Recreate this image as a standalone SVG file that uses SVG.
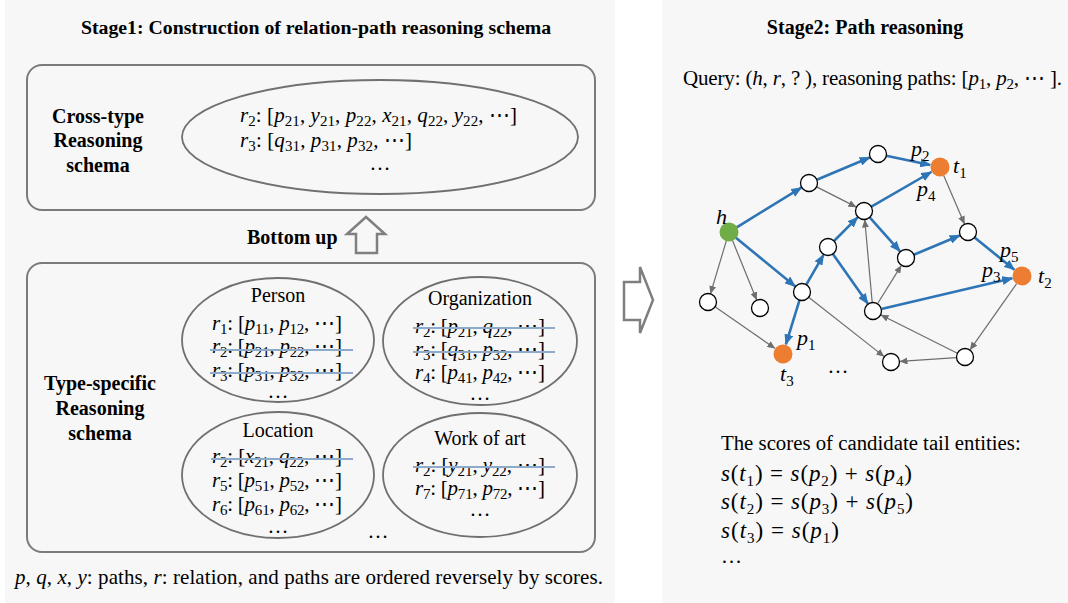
<svg xmlns="http://www.w3.org/2000/svg" width="1068" height="603" viewBox="0 0 1068 603">
<defs>
<style>
.panel{fill:#f7f7f7}
.box{fill:none;stroke:#7b7b7b;stroke-width:2}
.ell{fill:none;stroke:#707070;stroke-width:1.8}
.b{font-family:"Liberation Serif","Times New Roman",serif;font-weight:bold;font-size:20px;fill:#000}
.t{font-family:"Liberation Serif","Times New Roman",serif;font-size:20px;fill:#000}
.m{font-family:"Liberation Serif","DejaVu Serif",serif;font-size:21px;fill:#000}
.eq{font-size:23px}
.i{font-style:italic}
.sb{font-size:15px}
.st{stroke:#8eaacb;stroke-width:2}
.hol{stroke:#7f7f7f;stroke-width:2.5}
.be{stroke:#2e75b6;stroke-width:2.6;fill:none;marker-end:url(#ab)}
.ge{stroke:#6e6e6e;stroke-width:1.2;fill:none;marker-end:url(#ag)}
.n{fill:#fff;stroke:#000;stroke-width:1.3}
</style>
<marker id="ab" markerUnits="userSpaceOnUse" markerWidth="11" markerHeight="9" refX="10" refY="4.5" orient="auto"><path d="M0,0 L11,4.5 L0,9 z" fill="#2e75b6"/></marker>
<marker id="ag" markerUnits="userSpaceOnUse" markerWidth="8" markerHeight="7" refX="7.5" refY="3.5" orient="auto"><path d="M0,0 L8,3.5 L0,7 z" fill="#6e6e6e"/></marker>
</defs>
<rect x="0" y="0" width="1068" height="603" fill="#fff"/>
<rect class="panel" x="5" y="0" width="610" height="603"/>
<rect class="panel" x="662" y="0" width="406" height="603"/>

<g id="stage1-title"><text class="b" x="316" y="34" text-anchor="middle" style="font-size:19.8px">Stage1: Construction of relation-path reasoning schema</text></g>

<g id="cross-type">
<rect class="box" x="27" y="65" width="568" height="145" rx="15"/>
<text class="b" x="98" y="123" text-anchor="middle">Cross-type</text>
<text class="b" x="98" y="147" text-anchor="middle">Reasoning</text>
<text class="b" x="98" y="172" text-anchor="middle">schema</text>
<ellipse class="ell" cx="380" cy="137" rx="198" ry="57"/>
<text class="m" x="240" y="122" textLength="277" lengthAdjust="spacing"><tspan class="i">r</tspan><tspan class="sb" dy="4">2</tspan><tspan dy="-4">: [</tspan><tspan class="i">p</tspan><tspan class="sb" dy="4">21</tspan><tspan dy="-4">, </tspan><tspan class="i">y</tspan><tspan class="sb" dy="4">21</tspan><tspan dy="-4">, </tspan><tspan class="i">p</tspan><tspan class="sb" dy="4">22</tspan><tspan dy="-4">, </tspan><tspan class="i">x</tspan><tspan class="sb" dy="4">21</tspan><tspan dy="-4">, </tspan><tspan class="i">q</tspan><tspan class="sb" dy="4">22</tspan><tspan dy="-4">, </tspan><tspan class="i">y</tspan><tspan class="sb" dy="4">22</tspan><tspan dy="-4">, ⋯]</tspan></text>
<text class="m" x="240" y="147" textLength="172" lengthAdjust="spacing"><tspan class="i">r</tspan><tspan class="sb" dy="4">3</tspan><tspan dy="-4">: [</tspan><tspan class="i">q</tspan><tspan class="sb" dy="4">31</tspan><tspan dy="-4">, </tspan><tspan class="i">p</tspan><tspan class="sb" dy="4">31</tspan><tspan dy="-4">, </tspan><tspan class="i">p</tspan><tspan class="sb" dy="4">32</tspan><tspan dy="-4">, ⋯]</tspan></text>
<text class="m" x="380" y="170" text-anchor="middle">…</text>
</g>

<g id="bottom-up">
<text class="b" x="247" y="244">Bottom up</text>
<polygon class="hol" fill="#f7f7f7" points="366,217 385,234 377,234 377,253 356,253 356,234 347,234"/>
</g>

<g id="type-specific">
<rect class="box" x="27" y="263" width="568" height="289" rx="15"/>
<text class="b" x="100" y="390" text-anchor="middle">Type-specific</text>
<text class="b" x="100" y="415" text-anchor="middle">Reasoning</text>
<text class="b" x="100" y="440" text-anchor="middle">schema</text>
<text class="m" x="378" y="538" text-anchor="middle">…</text>
</g>

<g id="person">
<ellipse class="ell" cx="278" cy="340" rx="96" ry="62"/>
<text class="t" x="278" y="302" text-anchor="middle">Person</text>
<text class="m" x="212" y="330" textLength="130" lengthAdjust="spacing"><tspan class="i">r</tspan><tspan class="sb" dy="4">1</tspan><tspan dy="-4">: [</tspan><tspan class="i">p</tspan><tspan class="sb" dy="4">11</tspan><tspan dy="-4">, </tspan><tspan class="i">p</tspan><tspan class="sb" dy="4">12</tspan><tspan dy="-4">, ⋯]</tspan></text>
<text class="m" x="212" y="353" textLength="130" lengthAdjust="spacing"><tspan class="i">r</tspan><tspan class="sb" dy="4">2</tspan><tspan dy="-4">: [</tspan><tspan class="i">p</tspan><tspan class="sb" dy="4">21</tspan><tspan dy="-4">, </tspan><tspan class="i">p</tspan><tspan class="sb" dy="4">22</tspan><tspan dy="-4">, ⋯]</tspan></text>
<text class="m" x="212" y="377" textLength="130" lengthAdjust="spacing"><tspan class="i">r</tspan><tspan class="sb" dy="4">3</tspan><tspan dy="-4">: [</tspan><tspan class="i">p</tspan><tspan class="sb" dy="4">31</tspan><tspan dy="-4">, </tspan><tspan class="i">p</tspan><tspan class="sb" dy="4">32</tspan><tspan dy="-4">, ⋯]</tspan></text>
<text class="m" x="278" y="398" text-anchor="middle">…</text>
<line class="st" x1="210" y1="350" x2="353" y2="350"/>
<line class="st" x1="210" y1="373" x2="353" y2="373"/>
</g>

<g id="organization">
<ellipse class="ell" cx="480" cy="341" rx="97" ry="64"/>
<text class="t" x="480" y="305" text-anchor="middle">Organization</text>
<text class="m" x="415" y="333" textLength="130" lengthAdjust="spacing"><tspan class="i">r</tspan><tspan class="sb" dy="4">2</tspan><tspan dy="-4">: [</tspan><tspan class="i">p</tspan><tspan class="sb" dy="4">21</tspan><tspan dy="-4">, </tspan><tspan class="i">q</tspan><tspan class="sb" dy="4">22</tspan><tspan dy="-4">, ⋯]</tspan></text>
<text class="m" x="415" y="356" textLength="130" lengthAdjust="spacing"><tspan class="i">r</tspan><tspan class="sb" dy="4">3</tspan><tspan dy="-4">: [</tspan><tspan class="i">q</tspan><tspan class="sb" dy="4">31</tspan><tspan dy="-4">, </tspan><tspan class="i">p</tspan><tspan class="sb" dy="4">32</tspan><tspan dy="-4">, ⋯]</tspan></text>
<text class="m" x="415" y="379" textLength="130" lengthAdjust="spacing"><tspan class="i">r</tspan><tspan class="sb" dy="4">4</tspan><tspan dy="-4">: [</tspan><tspan class="i">p</tspan><tspan class="sb" dy="4">41</tspan><tspan dy="-4">, </tspan><tspan class="i">p</tspan><tspan class="sb" dy="4">42</tspan><tspan dy="-4">, ⋯]</tspan></text>
<text class="m" x="480" y="400" text-anchor="middle">…</text>
<line class="st" x1="413" y1="328" x2="555" y2="328"/>
<line class="st" x1="413" y1="352" x2="555" y2="352"/>
</g>

<g id="location">
<ellipse class="ell" cx="278" cy="475" rx="96" ry="63"/>
<text class="t" x="278" y="437" text-anchor="middle">Location</text>
<text class="m" x="212" y="463" textLength="130" lengthAdjust="spacing"><tspan class="i">r</tspan><tspan class="sb" dy="4">2</tspan><tspan dy="-4">: [</tspan><tspan class="i">x</tspan><tspan class="sb" dy="4">21</tspan><tspan dy="-4">, </tspan><tspan class="i">q</tspan><tspan class="sb" dy="4">22</tspan><tspan dy="-4">, ⋯]</tspan></text>
<text class="m" x="212" y="487" textLength="130" lengthAdjust="spacing"><tspan class="i">r</tspan><tspan class="sb" dy="4">5</tspan><tspan dy="-4">: [</tspan><tspan class="i">p</tspan><tspan class="sb" dy="4">51</tspan><tspan dy="-4">, </tspan><tspan class="i">p</tspan><tspan class="sb" dy="4">52</tspan><tspan dy="-4">, ⋯]</tspan></text>
<text class="m" x="212" y="511" textLength="130" lengthAdjust="spacing"><tspan class="i">r</tspan><tspan class="sb" dy="4">6</tspan><tspan dy="-4">: [</tspan><tspan class="i">p</tspan><tspan class="sb" dy="4">61</tspan><tspan dy="-4">, </tspan><tspan class="i">p</tspan><tspan class="sb" dy="4">62</tspan><tspan dy="-4">, ⋯]</tspan></text>
<text class="m" x="278" y="533" text-anchor="middle">…</text>
<line class="st" x1="211" y1="459" x2="353" y2="459"/>
</g>

<g id="work-of-art">
<ellipse class="ell" cx="480" cy="475" rx="97" ry="62"/>
<text class="t" x="480" y="445" text-anchor="middle">Work of art</text>
<text class="m" x="415" y="472" textLength="130" lengthAdjust="spacing"><tspan class="i">r</tspan><tspan class="sb" dy="4">2</tspan><tspan dy="-4">: [</tspan><tspan class="i">y</tspan><tspan class="sb" dy="4">21</tspan><tspan dy="-4">, </tspan><tspan class="i">y</tspan><tspan class="sb" dy="4">22</tspan><tspan dy="-4">, ⋯]</tspan></text>
<text class="m" x="415" y="495" textLength="130" lengthAdjust="spacing"><tspan class="i">r</tspan><tspan class="sb" dy="4">7</tspan><tspan dy="-4">: [</tspan><tspan class="i">p</tspan><tspan class="sb" dy="4">71</tspan><tspan dy="-4">, </tspan><tspan class="i">p</tspan><tspan class="sb" dy="4">72</tspan><tspan dy="-4">, ⋯]</tspan></text>
<text class="m" x="480" y="516" text-anchor="middle">…</text>
<line class="st" x1="413" y1="467" x2="555" y2="467"/>
</g>

<g id="legend"><text class="t" x="15" y="584" style="font-size:21px" textLength="588" lengthAdjust="spacing"><tspan class="i">p</tspan>, <tspan class="i">q</tspan>, <tspan class="i">x</tspan>, <tspan class="i">y</tspan>: paths, <tspan class="i">r</tspan>: relation, and paths are ordered reversely by scores.</text></g>

<g id="stage-arrow"><polygon class="hol" fill="#fff" points="624,282 640,282 640,267 653,300 640,333 640,320 624,320"/></g>

<g id="stage2-title"><text class="b" x="865" y="34" text-anchor="middle">Stage2: Path reasoning</text></g>
<g id="query"><text class="m" x="683" y="85" textLength="379" lengthAdjust="spacing">Query: (<tspan class="i">h</tspan>, <tspan class="i">r</tspan>, ? ), reasoning paths: [<tspan class="i">p</tspan><tspan class="sb" dy="4">1</tspan><tspan dy="-4">, </tspan><tspan class="i">p</tspan><tspan class="sb" dy="4">2</tspan><tspan dy="-4">, ⋯ ].</tspan></text></g>

<g id="connectors">
<line class="ge" x1="726.4" y1="240.6" x2="710.6" y2="293.4"/>
<line class="ge" x1="732.4" y1="240.3" x2="756.6" y2="299.7"/>
<line class="ge" x1="715" y1="306.8" x2="774.8" y2="348.3"/>
<line class="ge" x1="816.6" y1="186.9" x2="856" y2="206.9"/>
<line class="ge" x1="943.8" y1="175.7" x2="964.4" y2="223.7"/>
<line class="ge" x1="872.2" y1="302.5" x2="864.8" y2="220"/>
<line class="ge" x1="877.5" y1="303.8" x2="901.2" y2="265.6"/>
<line class="ge" x1="808.7" y1="297.3" x2="883.9" y2="356.4"/>
<line class="ge" x1="956.5" y1="357.6" x2="900" y2="361.4"/>
<line class="ge" x1="957.4" y1="353.2" x2="881" y2="315"/>
<line class="ge" x1="1016.5" y1="283.8" x2="970.2" y2="349.6"/>
<line class="be" x1="736.7" y1="227.3" x2="801.3" y2="187.7"/>
<line class="be" x1="816.8" y1="179.7" x2="869.7" y2="157.5"/>
<line class="be" x1="886.3" y1="155.7" x2="930.2" y2="164.9"/>
<line class="be" x1="735.9" y1="237.7" x2="795.1" y2="286.3"/>
<line class="be" x1="799.5" y1="300.1" x2="785.9" y2="344.4"/>
<line class="be" x1="806.3" y1="284.6" x2="823.5" y2="254.8"/>
<line class="be" x1="834" y1="241" x2="857.6" y2="217.4"/>
<line class="be" x1="871.4" y1="206.7" x2="931.3" y2="172"/>
<line class="be" x1="869.7" y1="217.3" x2="900" y2="251.3"/>
<line class="be" x1="913.8" y1="254.7" x2="959.7" y2="235.5"/>
<line class="be" x1="974.6" y1="237.4" x2="1014.3" y2="269.7"/>
<line class="be" x1="832.9" y1="254" x2="867.8" y2="303.6"/>
<line class="be" x1="881.3" y1="309" x2="1012.3" y2="278.3"/>
</g>

<g id="node-h"><circle cx="729" cy="232" r="9.5" fill="#70ad47"/><text class="m i" x="716" y="224" style="font-size:22px">h</text></g>
<g id="node-a"><circle class="n" cx="809" cy="183" r="8.5"/></g>
<g id="node-b"><circle class="n" cx="878" cy="154" r="8.5"/></g>
<g id="node-t1"><circle cx="940" cy="167" r="9.5" fill="#ed7d31"/><text class="m" x="953" y="173" style="font-size:22px"><tspan class="i">t</tspan><tspan class="sb" dy="5">1</tspan></text></g>
<g id="node-c"><circle class="n" cx="864" cy="211" r="8.5"/></g>
<g id="node-d"><circle class="n" cx="828" cy="247" r="8.5"/></g>
<g id="node-e"><circle class="n" cx="906" cy="258" r="8.5"/></g>
<g id="node-f"><circle class="n" cx="968" cy="232" r="8.5"/></g>
<g id="node-t2"><circle cx="1022" cy="276" r="9.5" fill="#ed7d31"/><text class="m" x="1038" y="283" style="font-size:22px"><tspan class="i">t</tspan><tspan class="sb" dy="5">2</tspan></text></g>
<g id="node-g"><circle class="n" cx="708" cy="302" r="8.5"/></g>
<g id="node-hh"><circle class="n" cx="760" cy="308" r="8.5"/></g>
<g id="node-i"><circle class="n" cx="802" cy="292" r="8.5"/></g>
<g id="node-t3"><circle cx="783" cy="354" r="9.5" fill="#ed7d31"/><text class="m" x="780" y="381" style="font-size:22px"><tspan class="i">t</tspan><tspan class="sb" dy="5">3</tspan></text></g>
<g id="node-j"><circle class="n" cx="873" cy="311" r="8.5"/></g>
<g id="node-k"><circle class="n" cx="965" cy="357" r="8.5"/></g>
<g id="node-l"><circle class="n" cx="891" cy="362" r="8.5"/></g>

<g id="path-labels">
<text class="m" x="911" y="156" style="font-size:22px"><tspan class="i">p</tspan><tspan class="sb" dy="5">2</tspan></text>
<text class="m" x="917" y="196" style="font-size:22px"><tspan class="i">p</tspan><tspan class="sb" dy="5">4</tspan></text>
<text class="m" x="1000" y="257" style="font-size:22px"><tspan class="i">p</tspan><tspan class="sb" dy="5">5</tspan></text>
<text class="m" x="982" y="277" style="font-size:22px"><tspan class="i">p</tspan><tspan class="sb" dy="5">3</tspan></text>
<text class="m" x="797" y="345" style="font-size:22px"><tspan class="i">p</tspan><tspan class="sb" dy="5">1</tspan></text>
<text class="m" x="838" y="373" text-anchor="middle">…</text>
</g>

<g id="scores">
<text class="t" x="721" y="450" style="font-size:20.8px">The scores of candidate tail entities:</text>
<text class="m eq" x="721" y="481" textLength="191" lengthAdjust="spacing"><tspan class="i">s</tspan>(<tspan class="i">t</tspan><tspan class="sb" dy="5">1</tspan><tspan dy="-5">) = </tspan><tspan class="i">s</tspan>(<tspan class="i">p</tspan><tspan class="sb" dy="5">2</tspan><tspan dy="-5">) + </tspan><tspan class="i">s</tspan>(<tspan class="i">p</tspan><tspan class="sb" dy="5">4</tspan><tspan dy="-5">)</tspan></text>
<text class="m eq" x="721" y="509" textLength="192" lengthAdjust="spacing"><tspan class="i">s</tspan>(<tspan class="i">t</tspan><tspan class="sb" dy="5">2</tspan><tspan dy="-5">) = </tspan><tspan class="i">s</tspan>(<tspan class="i">p</tspan><tspan class="sb" dy="5">3</tspan><tspan dy="-5">) + </tspan><tspan class="i">s</tspan>(<tspan class="i">p</tspan><tspan class="sb" dy="5">5</tspan><tspan dy="-5">)</tspan></text>
<text class="m eq" x="721" y="538" textLength="118" lengthAdjust="spacing"><tspan class="i">s</tspan>(<tspan class="i">t</tspan><tspan class="sb" dy="5">3</tspan><tspan dy="-5">) = </tspan><tspan class="i">s</tspan>(<tspan class="i">p</tspan><tspan class="sb" dy="5">1</tspan><tspan dy="-5">)</tspan></text>
<text class="m" x="721" y="563">…</text>
</g>
</svg>
